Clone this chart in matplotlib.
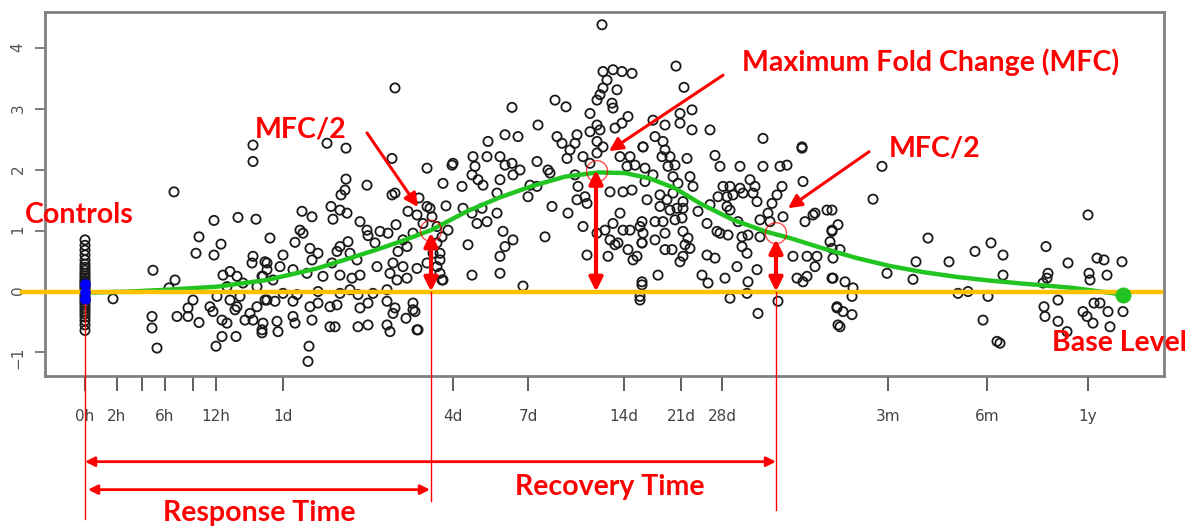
import numpy as np
import matplotlib
matplotlib.use("Agg")
import matplotlib.pyplot as plt

# x is the (transformed) time axis used by the original plot, y is log fold change
tick_pos = [85, 117, 142, 165, 193, 216, 283, 453, 528, 624, 681, 722, 888, 987, 1088]
tick_labels = ['0h', '2h', '', '6h', '', '12h', '1d', '4d', '7d', '14d', '21d', '28d', '3m', '6m', '1y']

ctrl_x = 85
ctrl_y = [0.85, 0.76, 0.68, 0.6, 0.52, 0.45, 0.4, 0.35, 0.3, 0.26, 0.22, 0.18, 0.15, 0.12,
          0.09, 0.06, 0.03, 0.0, -0.03, -0.06, -0.1, -0.14, -0.18, -0.22, -0.27, -0.32,
          -0.37, -0.42, -0.48, -0.55, -0.64]

early_pts = [(253, 2.41), (253, 2.14), (174, 1.64), (214, 1.17), (238, 1.22), (256, 1.19), (199, 0.90),
             (221, 0.78), (196, 0.63), (214, 0.60), (153, 0.35), (175, 0.19), (169, 0.06), (113, -0.12),
             (223, 0.27), (230, 0.33), (237, 0.25), (253, 0.58), (252, 0.47), (267, 0.47), (263, 0.25),
             (227, 0.08), (243, 0.14), (257, 0.08), (217, -0.08), (230, -0.14), (240, -0.08), (193, -0.14),
             (188, -0.27), (177, -0.41), (152, -0.41), (152, -0.60), (157, -0.93), (188, -0.41), (199, -0.51),
             (210, -0.25), (213, -0.33), (222, -0.47), (237, -0.25), (235, -0.30), (250, -0.36), (253, -0.47),
             (262, -0.68), (245, -0.47), (236, -0.74), (222, -0.74), (216, -0.90), (257, -0.25), (227, -0.52),
             (267, -0.14)]

rise_pts = [(395, 3.35), (327, 2.44), (346, 2.36), (392, 2.19), (427, 2.03), (452, 2.08), (443, 1.78),
            (367, 1.75), (346, 1.85), (345, 1.67), (341, 1.59), (395, 1.62), (392, 1.59), (419, 1.54),
            (446, 1.41), (331, 1.40), (340, 1.34), (347, 1.29), (302, 1.32), (312, 1.23), (333, 1.19),
            (360, 1.15), (408, 1.32), (430, 1.37), (417, 1.26), (300, 1.01), (303, 0.96), (367, 1.01),
            (380, 0.99), (388, 0.96), (396, 1.10), (413, 0.96), (270, 0.88), (295, 0.81), (310, 0.71),
            (340, 0.74), (348, 0.82), (375, 0.80), (368, 0.92), (403, 0.85), (407, 0.74), (398, 0.66),
            (437, 0.80), (448, 1.01), (283, 0.60), (318, 0.63), (312, 0.52), (337, 0.66), (350, 0.63),
            (357, 0.52), (332, 0.47), (377, 0.41), (393, 0.47), (403, 0.41), (417, 0.38), (440, 0.30),
            (442, 0.19), (265, 0.49), (267, 0.36), (280, 0.41), (293, 0.36), (307, 0.30), (323, 0.25),
            (340, 0.27), (352, 0.22), (360, 0.27), (390, 0.30), (397, 0.19), (407, 0.22), (262, 0.25),
            (273, 0.19), (283, -0.03), (297, -0.05), (318, 0.0), (340, -0.03), (350, 0.03), (358, -0.05),
            (373, -0.03), (387, 0.03), (265, -0.14), (275, -0.16), (293, -0.16), (310, -0.25), (318, -0.19),
            (330, -0.25), (337, -0.22), (360, -0.27), (368, -0.19), (387, -0.16), (395, -0.27), (413, -0.19),
            (415, -0.33), (406, -0.44), (393, -0.36), (263, -0.52), (277, -0.49), (278, -0.66), (293, -0.41),
            (295, -0.52), (312, -0.47), (330, -0.58), (335, -0.58), (358, -0.58), (368, -0.55), (387, -0.55),
            (390, -0.66), (418, -0.63), (309, -0.90), (308, -1.15), (262, -0.63), (427, 1.40), (432, 1.23),
            (423, 1.12), (437, 1.07), (442, 0.90), (433, 0.63), (440, 0.52), (437, 0.41), (427, 0.47),
            (417, -0.63), (413, -0.30), (440, 0.63), (443, 0.19)]

peak_pts = [(602, 4.39), (603, 3.62), (613, 3.65), (622, 3.62), (632, 3.59), (607, 3.48), (603, 3.35),
            (617, 3.32), (600, 3.24), (612, 3.10), (613, 3.02), (597, 3.15), (555, 3.15), (566, 3.04),
            (512, 3.03), (590, 2.93), (628, 2.88), (622, 2.77), (615, 2.69), (538, 2.74), (597, 2.74),
            (600, 2.66), (590, 2.63), (505, 2.58), (518, 2.55), (488, 2.47), (557, 2.55), (577, 2.58),
            (562, 2.44), (575, 2.44), (597, 2.47), (603, 2.38), (570, 2.33), (583, 2.22), (597, 2.28),
            (567, 2.19), (590, 2.11), (643, 2.38), (620, 2.22), (630, 2.22), (635, 2.08), (627, 2.06),
            (453, 2.11), (473, 2.22), (475, 2.06), (487, 2.22), (500, 2.22), (505, 2.08), (512, 2.11),
            (520, 2.00), (513, 1.92), (537, 2.14), (548, 2.00), (550, 1.95), (472, 1.92), (478, 1.84),
            (483, 1.75), (500, 1.84), (462, 1.73), (530, 1.75), (537, 1.73), (528, 1.56), (497, 1.62),
            (575, 1.92), (578, 1.73), (577, 1.51), (585, 1.56), (587, 1.45), (610, 1.64), (623, 1.64),
            (632, 1.67), (463, 1.37), (472, 1.29), (482, 1.37), (477, 1.12), (487, 1.15), (497, 1.29),
            (552, 1.40), (568, 1.29), (620, 1.29), (613, 1.12), (605, 1.01), (623, 1.01), (630, 1.01),
            (640, 1.07), (583, 1.07), (597, 0.96), (503, 0.99), (513, 0.85), (545, 0.90), (505, 0.74),
            (500, 0.58), (468, 0.77), (587, 0.60), (610, 0.85), (615, 0.77), (618, 0.80), (628, 0.69),
            (637, 0.58), (642, 0.80), (633, 0.52), (608, 0.58), (472, 0.27), (500, 0.30), (523, 0.09),
            (642, 0.11), (640, -0.14)]

late_pts = [(676, 3.71), (684, 3.36), (692, 2.99), (680, 2.93), (653, 2.82), (665, 2.74), (680, 2.77),
            (692, 2.66), (710, 2.66), (655, 2.55), (663, 2.47), (643, 2.38), (763, 2.52), (802, 2.38),
            (665, 2.33), (670, 2.22), (662, 2.22), (687, 2.19), (715, 2.24), (720, 2.06), (740, 2.06),
            (763, 2.06), (780, 2.06), (787, 2.08), (645, 2.03), (668, 2.06), (675, 2.08), (653, 1.92),
            (673, 1.89), (678, 1.78), (690, 1.89), (693, 1.73), (645, 1.81), (723, 1.73), (730, 1.73),
            (740, 1.70), (750, 1.84), (755, 1.73), (782, 1.73), (803, 1.81), (647, 1.51), (660, 1.59),
            (667, 1.51), (673, 1.62), (683, 1.48), (718, 1.56), (727, 1.56), (733, 1.59), (743, 1.62),
            (753, 1.62), (757, 1.48), (772, 1.45), (777, 1.59), (660, 1.40), (670, 1.34), (677, 1.37),
            (683, 1.37), (698, 1.32), (710, 1.43), (727, 1.40), (730, 1.34), (768, 1.29), (815, 1.29),
            (827, 1.34), (642, 1.15), (655, 1.15), (663, 1.15), (675, 1.18), (682, 1.21), (707, 1.12),
            (738, 1.15), (760, 1.18), (770, 1.15), (783, 1.23), (805, 1.15), (813, 1.26), (643, 0.96),
            (642, 0.80), (655, 0.85), (665, 0.96), (683, 0.99), (688, 0.88), (685, 0.77), (690, 0.71),
            (672, 0.69), (665, 0.69), (683, 0.58), (680, 0.49), (717, 0.99), (720, 0.96), (728, 0.93),
            (742, 0.90), (748, 0.93), (760, 0.90), (707, 0.60), (715, 0.55), (742, 0.74), (747, 0.63),
            (793, 0.58), (807, 0.58), (817, 0.58), (815, 0.41), (832, 1.01), (830, 0.82), (833, 0.55),
            (737, 0.41), (757, 0.36), (702, 0.27), (708, 0.14), (725, 0.22), (748, 0.16), (797, 0.22),
            (807, 0.25), (803, 0.16), (832, 0.22), (658, 0.27), (642, 0.16), (640, -0.08), (730, -0.11),
            (747, -0.03), (778, -0.16), (758, -0.36), (837, -0.25), (838, -0.55), (802, 2.36)]

tail_pts = [(882, 2.06), (873, 1.52), (832, 1.34), (838, 1.10), (832, 0.99), (928, 0.88), (840, 0.69),
            (832, 0.71), (916, 0.49), (949, 0.49), (975, 0.66), (991, 0.80), (1003, 0.60), (1003, 0.27),
            (887, 0.30), (913, 0.20), (833, 0.22), (845, 0.16), (853, 0.06), (852, -0.08), (958, -0.03),
            (968, 0.0), (988, -0.08), (837, -0.27), (843, -0.33), (852, -0.38), (840, -0.58), (983, -0.47),
            (997, -0.82), (1088, 1.26), (1046, 0.74), (1068, 0.47), (1097, 0.55), (1104, 0.52), (1122, 0.49),
            (1048, 0.30), (1047, 0.22), (1043, 0.14), (1089, 0.30), (1090, 0.19), (1107, 0.27), (1058, -0.14),
            (1094, -0.19), (1100, -0.19), (1044, -0.25), (1045, -0.41), (1108, -0.33), (1123, -0.33),
            (1083, -0.33), (1087, -0.41), (1058, -0.49), (1093, -0.52), (1110, -0.58), (1067, -0.66),
            (1000, -0.85)]

# fitted response curve
curve_x = [85, 130, 167, 217, 267, 317, 350, 375, 400, 431, 467, 500, 533, 565, 598, 625, 650,
           675, 700, 733, 767, 790, 823, 857, 890, 923, 957, 990, 1023, 1073, 1100, 1123]
curve_y = [-0.02, 0.0, 0.03, 0.08, 0.19, 0.38, 0.55, 0.68, 0.82, 1.01, 1.32, 1.55, 1.74, 1.89, 1.96,
           1.95, 1.86, 1.70, 1.45, 1.18, 0.98, 0.88, 0.71, 0.55, 0.42, 0.32, 0.24, 0.18, 0.13, 0.06,
           0.0, -0.05]

# key points on the curve
half_up_x, half_up_y = 431, 1.0
peak_x, peak_y = 597, 1.98
half_down_x, half_down_y = 776, 0.96
base_x, base_y = 1123, -0.05

RED = '#ff0000'
ann_font = dict(family=['Lato', 'DejaVu Sans'], weight='bold', color=RED, fontsize=20.5)

fig = plt.figure(figsize=(11.91, 5.27), dpi=100)
ax = fig.add_axes([45 / 1191, 1 - 376 / 527, (1164 - 45) / 1191, (376 - 12) / 527])
ax.set_xlim(45, 1164)
ax.set_ylim(-1.39, 4.60)

pts = np.array(early_pts + rise_pts + peak_pts + late_pts + tail_pts)
ax.scatter(pts[:, 0], pts[:, 1], s=44, facecolors='none', edgecolors='#1a1a1a', linewidths=1.3, zorder=2)
ax.scatter([ctrl_x] * len(ctrl_y), ctrl_y, s=44, facecolors='none', edgecolors='#1a1a1a',
           linewidths=1.3, zorder=2)
ax.scatter([ctrl_x] * 3, [-0.12, 0.0, 0.12], s=45, color='#0000ff', zorder=5)

ax.plot(curve_x, curve_y, color='#22c422', lw=3.2, zorder=3, solid_capstyle='round')
ax.plot([22, 1161], [0, 0], color='#ffc000', lw=3.2, zorder=4, clip_on=False)
ax.scatter([base_x], [base_y], s=110, color='#22c422', zorder=5)

# red circles around the MFC and MFC/2 points
ax.scatter([half_up_x, peak_x, half_down_x], [half_up_y, peak_y, half_down_y], s=230,
           facecolors='none', edgecolors=RED, linewidths=1.0, alpha=0.7, zorder=6)

# thick double arrows from base level up to the curve
for xx, yy in [(half_up_x, half_up_y - 0.03), (peak_x - 1, peak_y + 0.02), (half_down_x, half_down_y - 0.1)]:
    ax.annotate('', xy=(xx, yy), xytext=(xx, 0), zorder=7,
                arrowprops=dict(arrowstyle='<|-|>', color=RED, lw=3, mutation_scale=20,
                                shrinkA=0, shrinkB=0))

# thin vertical guide lines down to the time arrows
ax.plot([85, 85], [-0.2, -3.75], color=RED, lw=1.0, clip_on=False, zorder=7)
ax.plot([431, 431], [0, -3.45], color=RED, lw=1.0, clip_on=False, zorder=7)
ax.plot([776, 776], [0, -3.6], color=RED, lw=1.0, clip_on=False, zorder=7)

ax.annotate('', xy=(776, -2.80), xytext=(85, -2.80), annotation_clip=False,
            arrowprops=dict(arrowstyle='<|-|>', color=RED, lw=2, mutation_scale=14, shrinkA=0, shrinkB=0))
ax.annotate('', xy=(430, -3.26), xytext=(88, -3.26), annotation_clip=False,
            arrowprops=dict(arrowstyle='<|-|>', color=RED, lw=2, mutation_scale=14, shrinkA=0, shrinkB=0))

# pointer arrows
for (x0, y0), (x1, y1) in [((367, 2.61), (418, 1.39)), ((723, 3.56), (609, 2.31)), ((869, 2.30), (788, 1.37))]:
    ax.annotate('', xy=(x1, y1), xytext=(x0, y0), zorder=7,
                arrowprops=dict(arrowstyle='-|>', color=RED, lw=2.2, mutation_scale=20,
                                shrinkA=0, shrinkB=0))

ax.text(79, 1.26, 'Controls', ha='center', va='center', **ann_font)
ax.text(301, 2.66, 'MFC/2', ha='center', va='center', **ann_font)
ax.text(931, 3.78, 'Maximum Fold Change (MFC)', ha='center', va='center', **ann_font)
ax.text(935, 2.36, 'MFC/2', ha='center', va='center', **ann_font)
ax.text(1119, -0.84, 'Base Level', ha='center', va='center', clip_on=False, **ann_font)
ax.text(610, -3.21, 'Recovery Time', ha='center', va='center', **ann_font)
ax.text(259, -3.64, 'Response Time', ha='center', va='center', **ann_font)

# axes styling, R base-graphics look
for sp in ax.spines.values():
    sp.set_color('#808080')
    sp.set_linewidth(2)
ax.set_yticks(range(-1, 5))
ax.set_xticks(tick_pos)
ax.set_xticklabels(tick_labels, family=['Liberation Sans Narrow', 'DejaVu Sans'], fontsize=11, color='#444444')
ax.tick_params(axis='x', length=11, width=1.2, color='#444444', pad=13)
ax.tick_params(axis='y', length=7, width=1.2, color='#666666', pad=7, labelrotation=90,
               labelsize=11, labelcolor='#555555')

fig.savefig('out.png', dpi=100)
